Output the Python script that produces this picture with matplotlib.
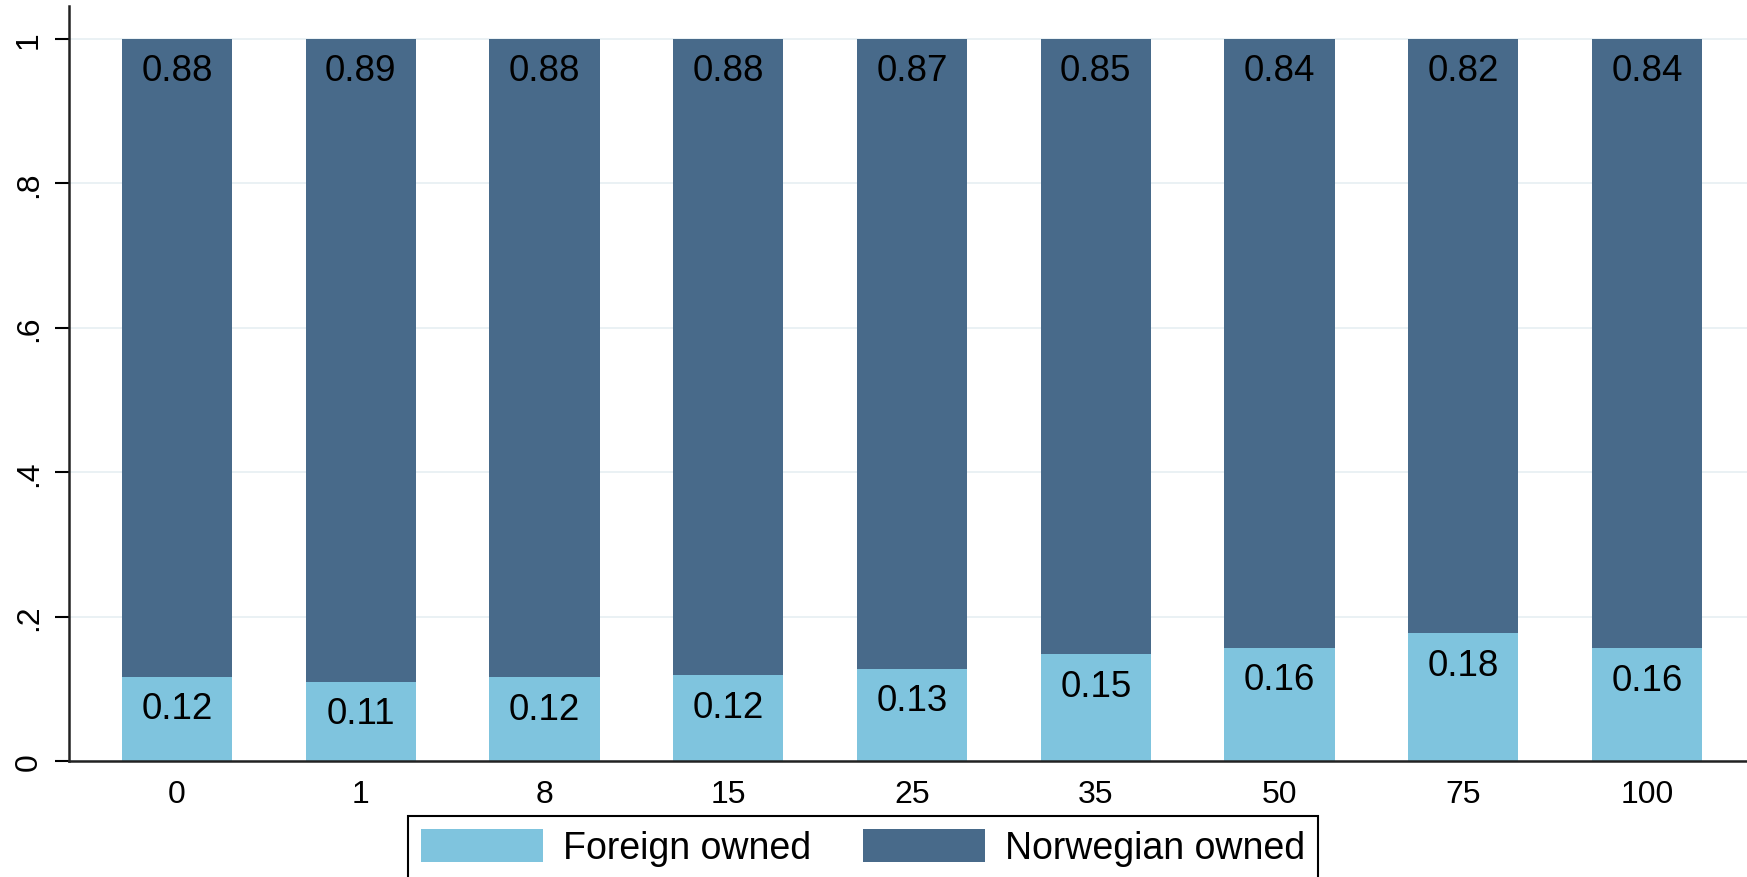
import matplotlib
matplotlib.use("Agg")
import matplotlib.pyplot as plt
import numpy as np

categories = ["0", "1", "8", "15", "25", "35", "50", "75", "100"]
foreign = [0.117, 0.110, 0.116, 0.119, 0.128, 0.148, 0.157, 0.177, 0.156]
norwegian = [0.883, 0.890, 0.884, 0.881, 0.872, 0.852, 0.843, 0.823, 0.844]
ytick_vals = [0, 0.2, 0.4, 0.6, 0.8, 1.0]
ytick_labels = ["0", ".2", ".4", ".6", ".8", "1"]
series_names = ["Foreign owned", "Norwegian owned"]

c_foreign = "#7fc4de"
c_norw = "#486a8a"

plt.rcParams['font.family'] = ['Liberation Sans', 'DejaVu Sans']

W, H = 1747, 878
fig = plt.figure(figsize=(W / 100, H / 100), dpi=100)
ax = fig.add_axes([69 / W, 1 - 762 / H, 1 - 69 / W, (762 - 7) / H])

x = np.arange(len(categories))
bw = 0.60
b1 = ax.bar(x, foreign, bw, color=c_foreign, label=series_names[0], zorder=2)
b2 = ax.bar(x, norwegian, bw, bottom=foreign, color=c_norw, label=series_names[1], zorder=2)

for xi, f, n in zip(x, foreign, norwegian):
    ax.annotate(f"{f:.2f}", xy=(xi, f), xytext=(0, -23), textcoords="offset points",
                ha="center", va="center", fontsize=26.5, color="black", zorder=3)
    ax.annotate(f"{n:.2f}", xy=(xi, f + n), xytext=(0, -23), textcoords="offset points",
                ha="center", va="center", fontsize=26.5, color="black", zorder=3)

ax.set_xlim(-0.588, 8.544)
ax.set_ylim(0, 1.0457)
ax.set_xticks(x)
ax.set_xticklabels(categories, fontsize=23)
ax.set_yticks(ytick_vals)
ax.set_yticklabels(ytick_labels, fontsize=23, rotation=90, va="center")
ax.tick_params(axis="x", length=0, pad=13)
ax.tick_params(axis="y", length=10, width=1.5, pad=8)
ax.yaxis.grid(True, color="#e6eff2", linewidth=1.2, zorder=0)
ax.set_axisbelow(True)
for s in ["top", "right"]:
    ax.spines[s].set_visible(False)
for s in ["left", "bottom"]:
    ax.spines[s].set_linewidth(1.8)
    ax.spines[s].set_color("#222222")

leg = fig.legend(handles=[b1, b2], labels=series_names, loc="upper left",
                 bbox_to_anchor=(408 / W, 1 - 817 / H), borderaxespad=0,
                 ncol=2, fontsize=27, handlelength=3.25, handleheight=0.96,
                 handletextpad=0.53, columnspacing=1.39, borderpad=0.35,
                 frameon=True, fancybox=False, edgecolor="black", framealpha=1)
leg.get_frame().set_linewidth(1.5)

fig.savefig("out.png", dpi=100)
